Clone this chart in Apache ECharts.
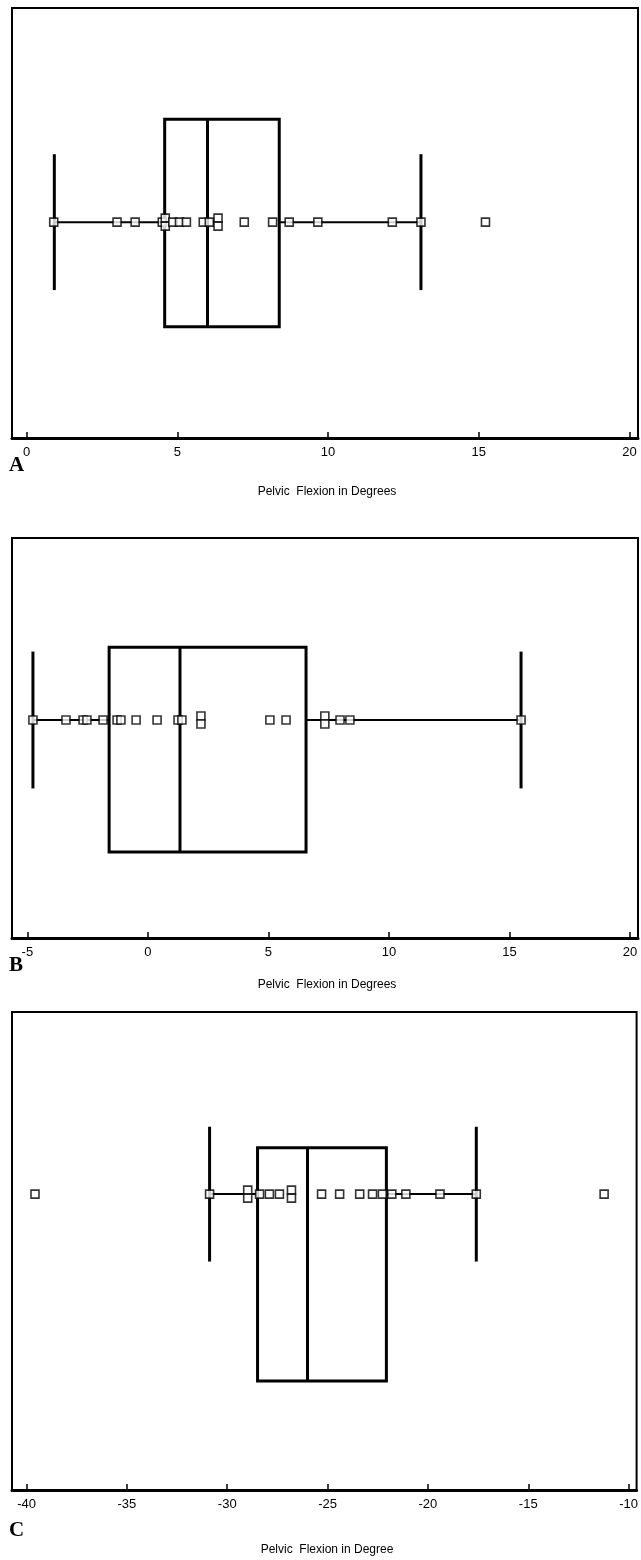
<!DOCTYPE html>
<html>
<head>
<meta charset="utf-8">
<script src="https://cdn.jsdelivr.net/npm/echarts@6/dist/echarts.min.js"></script>
<style>html,body{margin:0;padding:0;background:#fff}#c{width:641px;height:1560px}</style>
</head>
<body>
<div id="c"></div>
<script>
// ---- Data ----
// Panel A: pelvic flexion (degrees)
const pointsA = [0.9, 3.0, 3.6, 4.5, 4.6, 4.6, 4.85, 5.07, 5.3, 5.86, 6.06, 6.35, 6.35, 7.22, 8.16, 8.71, 9.66, 12.13, 13.08, 15.22];
const boxA = [0.92, 4.58, 6.0, 8.38, 13.08]; // whisker low, Q1, median, Q3, whisker high
const ticksA = [0, 5, 10, 15, 20];

// Panel B
const pointsB = [-4.77, -3.4, -2.69, -2.53, -1.86, -1.28, -1.12, -0.49, 0.38, 1.25, 1.41, 2.2, 2.2, 5.06, 5.73, 7.34, 7.34, 7.97, 8.38, 15.48];
const boxB = [-4.77, -1.61, 1.33, 6.56, 15.48];
const ticksB = [-5, 0, 5, 10, 15, 20];

// Panel C
const pointsC = [-39.58, -30.88, -28.98, -28.98, -28.39, -27.9, -27.4, -26.8, -26.8, -25.3, -24.4, -23.4, -22.76, -22.27, -21.8, -21.1, -19.4, -17.59, -11.22];
const boxC = [-30.88, -28.49, -26.0, -22.07, -17.59];
const ticksC = [-40, -35, -30, -25, -20, -15, -10];

const titles = ['Pelvic  Flexion in Degrees', 'Pelvic  Flexion in Degrees', 'Pelvic  Flexion in Degree'];
const letters = ['A', 'B', 'C'];

// ---- Layout ----
const panels = [
  {pts: pointsA, box: boxA, ticks: ticksA, top: 8, height: 430, min: -0.484, max: 20.279, row: 0.502, boxC: 0.5, boxH: 0.241, capH: 0.158},
  {pts: pointsB, box: boxB, ticks: ticksB, top: 538, height: 400, min: -5.639, max: 20.332, row: 0.545, boxC: 0.471, boxH: 0.256, capH: 0.171},
  {pts: pointsC, box: boxC, ticks: ticksC, top: 1012, height: 478, min: -40.726, max: -9.602, row: 0.619, boxC: 0.472, boxH: 0.244, capH: 0.141}
];

const chart = echarts.init(document.getElementById('c'), null, {renderer: 'canvas'});
const grid = [], xAxis = [], yAxis = [], series = [], graphic = [];
const FONT = '"Liberation Sans", Arial, sans-serif';

panels.forEach((p, i) => {
  grid.push({left: 12, top: p.top, width: 626, height: p.height, show: true, borderColor: '#000', borderWidth: 2, backgroundColor: '#fff'});
  xAxis.push({
    type: 'value', gridIndex: i, min: p.min, max: p.max, position: 'bottom',
    axisLine: {show: true, onZero: false, lineStyle: {color: '#000', width: 3}},
    axisTick: {show: true, inside: true, length: 6, lineStyle: {color: '#000', width: 1.5}, customValues: p.ticks},
    axisLabel: {show: true, color: '#000', fontFamily: FONT, fontSize: 13, margin: 8, customValues: p.ticks},
    splitLine: {show: false}
  });
  yAxis.push({type: 'value', gridIndex: i, min: 0, max: 1, show: false});

  // box + whiskers
  series.push({
    type: 'custom', xAxisIndex: i, yAxisIndex: i, z: 2,
    data: [p.box],
    encode: {x: [0, 1, 2, 3, 4]},
    renderItem: function (params, api) {
      const lo = api.value(0), q1 = api.value(1), md = api.value(2), q3 = api.value(3), hi = api.value(4);
      const y = p.row;
      const pLo = api.coord([lo, y]), pQ1 = api.coord([q1, y]), pMd = api.coord([md, y]), pQ3 = api.coord([q3, y]), pHi = api.coord([hi, y]);
      const yTop = api.coord([lo, p.boxC + p.boxH])[1], yBot = api.coord([lo, p.boxC - p.boxH])[1];
      const cTop = api.coord([lo, y + p.capH])[1], cBot = api.coord([lo, y - p.capH])[1];
      return {type: 'group', children: [
        {type: 'line', shape: {x1: pLo[0], y1: pLo[1], x2: pQ1[0], y2: pQ1[1]}, style: {stroke: '#000', lineWidth: 2}},
        {type: 'line', shape: {x1: pQ3[0], y1: pQ3[1], x2: pHi[0], y2: pHi[1]}, style: {stroke: '#000', lineWidth: 2}},
        {type: 'line', shape: {x1: pLo[0], y1: cTop, x2: pLo[0], y2: cBot}, style: {stroke: '#000', lineWidth: 3}},
        {type: 'line', shape: {x1: pHi[0], y1: cTop, x2: pHi[0], y2: cBot}, style: {stroke: '#000', lineWidth: 3}},
        {type: 'rect', shape: {x: pQ1[0], y: yTop, width: pQ3[0] - pQ1[0], height: yBot - yTop}, style: {stroke: '#000', lineWidth: 3, fill: null}},
        {type: 'line', shape: {x1: pMd[0], y1: yTop, x2: pMd[0], y2: yBot}, style: {stroke: '#000', lineWidth: 3}}
      ]};
    }
  });

  // points, duplicates stacked vertically
  const counts = {};
  p.pts.forEach(v => { counts[v] = (counts[v] || 0) + 1; });
  const seen = {};
  const data = p.pts.map(v => {
    const n = counts[v], k = (seen[v] = (seen[v] || 0) + 1) - 1;
    const off = (k - (n - 1) / 2) * (n === 2 ? 8 : 6);
    return {value: [v, p.row], symbolOffset: [0, off]};
  });
  series.push({
    type: 'scatter', xAxisIndex: i, yAxisIndex: i, z: 5,
    symbol: 'rect', symbolSize: 8,
    itemStyle: {color: '#fff', borderColor: '#000', borderWidth: 1.6},
    data: data, silent: true
  });
});

const letterY = [462, 962, 1527];
const titleY = [492, 985, 1550];
letters.forEach((L, i) => {
  graphic.push({type: 'text', left: 9, top: letterY[i] - 7, style: {text: L, font: 'bold 21px "Liberation Serif", "DejaVu Serif", serif', fill: '#000'}});
  graphic.push({type: 'text', x: 327, y: titleY[i], style: {text: titles[i], font: '12px ' + FONT, fill: '#000', align: 'center', verticalAlign: 'middle'}});
});

chart.setOption({animation: false, backgroundColor: '#fff', grid, xAxis, yAxis, series, graphic});
</script>
</body>
</html>
